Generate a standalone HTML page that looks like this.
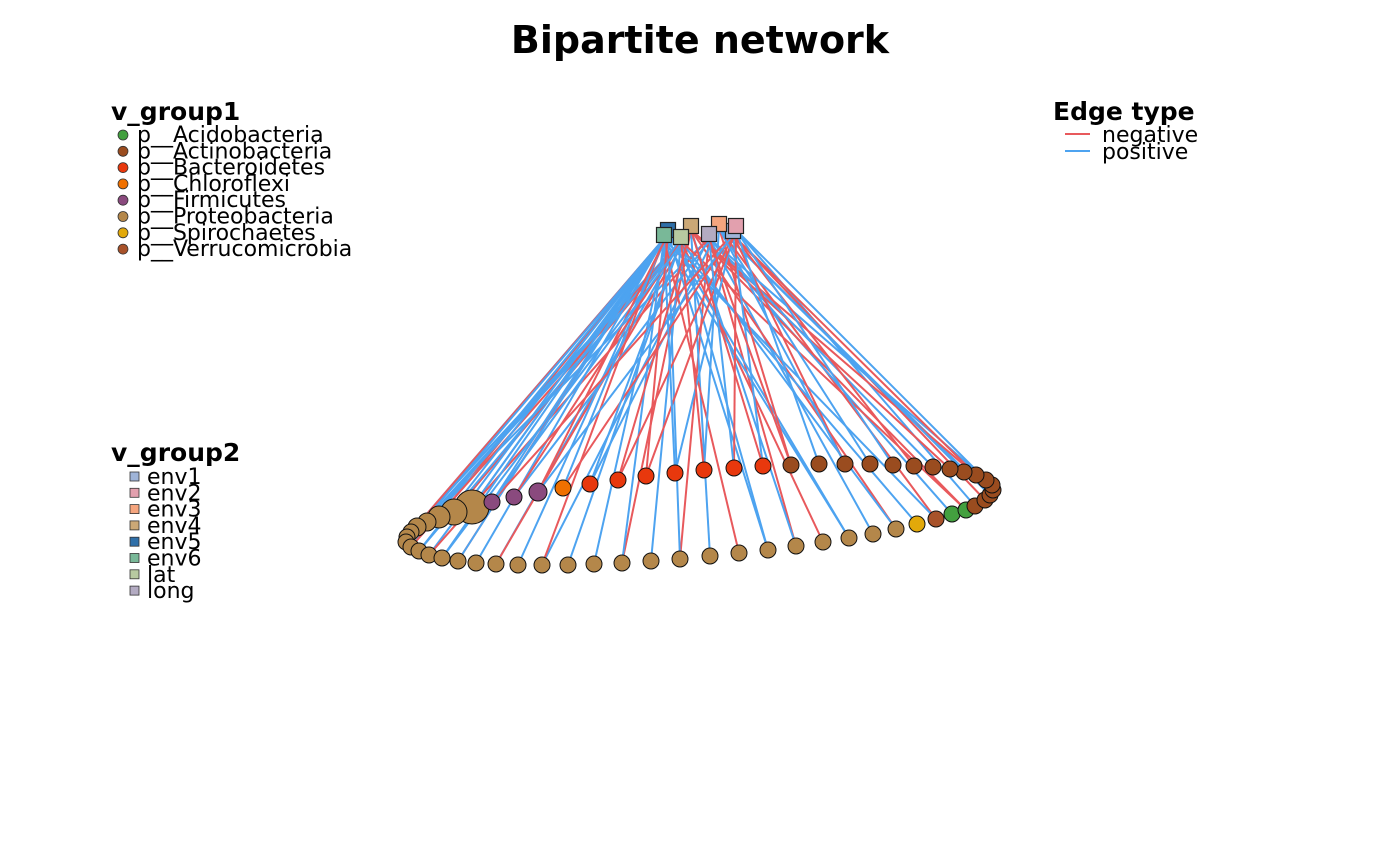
<!DOCTYPE html>
<html><head><meta charset="utf-8"><style>
html,body{margin:0;padding:0;background:#fff;}
svg{display:block;font-family:"DejaVu Sans","Liberation Sans",sans-serif;}
</style></head><body>
<svg id="chart" width="1400" height="866" viewBox="0 0 1400 866">
<text x="700" y="53" text-anchor="middle" font-size="38" font-weight="bold">Bipartite network</text>
<g id="edges"></g>
<g id="nodes"></g>
<g id="legends"></g>
</svg>
<script>
const groupNames = ["p__Acidobacteria","p__Actinobacteria","p__Bacteroidetes","p__Chloroflexi","p__Firmicutes","p__Proteobacteria","p__Spirochaetes","p__Verrucomicrobia"];
const groupColors = ["#43A03F","#9A4C1F","#E8380D","#F07000","#8A4A7E","#B4874A","#E2A90A","#A8522A"];
const envNames = ["env1","env2","env3","env4","env5","env6","lat","long"];
const envColors = ["#9FB4D8","#E2A0AE","#F5A57E","#CBA876","#2F6FA8","#79B898","#B7C9A0","#B3ABC2"];
// env square layout [x,y]
const envPos = [[733,231],[736,226],[719,224],[691,226],[668,230],[664,235],[681,237],[709,234]];
const envOrder = [0,3,2,1,7,4,5,6];
// ring nodes: x, y, radius, group index
const ringNodes = [
[472,507,17,5],[454,512,13,5],[439,517,11,5],[427,522,9,5],[417,527,9,5],[411,532,8,5],[407,537,8,5],[406,542,8,5],
[411,547,8,5],[419,551,8,5],[429,555,8,5],[442,558,8,5],[458,561,8,5],[476,563,8,5],[496,564,8,5],[518,565,8,5],
[542,565,8,5],[568,565,8,5],[594,564,8,5],[622,563,8,5],[651,561,8,5],[680,559,8,5],[710,556,8,5],[739,553,8,5],
[768,550,8,5],[796,546,8,5],[823,542,8,5],[849,538,8,5],[873,534,8,5],[896,529,8,5],[917,524,8,6],[936,519,8,7],
[952,514,8,0],[966,510,8,0],[975,506,8,1],[985,500,8,1],[990,495,8,1],[993,490,8,1],[992,485,8,1],[986,480,8,1],
[976,475,8,1],[964,472,8,1],[950,469,8,1],[933,467,8,1],[914,466,8,1],[893,465,8,1],[870,464,8,1],[845,464,8,1],
[819,464,8,1],[791,465,8,1],[763,466,8,2],[734,468,8,2],[704,470,8,2],[675,473,8,2],[646,476,8,2],[618,480,8,2],
[590,484,8,2],[563,488,8,3],[538,492,9,4],[514,497,8,4],[492,502,8,4]];
// edges: source env index, target ring index, sign (1 positive, 0 negative)
const edgeSrc = [4,5,6,3,4,5,6,7,4,5,3,6,4,5,6,4,5,3,6,4,5,7,4,6,5,4,5,6,3,4,7,5,6,4,3,5,6,7,4,3,5,6,4,7,3,6,4,5,7,3,6,4,2,5,7,3,6,1,0,2,3,7,1,0,2,3,7,0,1,2,0,1,2,0,1,2,0,1,0,2,1,0,2,1,3,7,6,5,4,3,6,5,4,6,5,3,7,2];
const edgeDst = [0,0,1,1,2,2,3,3,4,4,5,5,6,6,7,7,8,8,9,9,10,10,11,11,12,12,13,14,14,15,16,16,17,18,19,19,20,21,21,22,23,24,24,25,25,26,27,27,28,29,29,30,31,31,32,33,33,34,35,36,37,38,39,40,41,42,43,44,45,46,47,48,49,50,51,52,53,54,55,56,57,58,59,60,50,51,52,53,54,55,56,57,58,59,60,60,49,47];
const edgeSign = [1,1,1,0,1,0,1,1,1,0,1,1,1,0,1,1,1,0,1,1,1,0,1,1,0,1,1,1,0,1,1,0,1,1,0,1,1,0,1,1,0,1,1,0,1,0,1,1,1,0,1,1,0,1,1,0,0,1,0,1,0,1,1,0,1,0,1,0,1,1,0,1,0,1,0,1,1,0,0,1,0,1,1,0,0,1,0,1,0,0,1,1,0,0,1,1,0,1];
const svgNS = "http://www.w3.org/2000/svg";
function mk(tag, attrs, parent){const e=document.createElementNS(svgNS,tag);for(const k in attrs)e.setAttribute(k,attrs[k]);parent.appendChild(e);return e;}
const gE=document.getElementById("edges"), gN=document.getElementById("nodes"), gL=document.getElementById("legends");
for(let i=0;i<edgeSrc.length;i++){
  const s=envPos[edgeSrc[i]], t=ringNodes[edgeDst[i]];
  const l=mk("line",{x1:s[0],y1:s[1]+4,x2:t[0],y2:t[1],stroke:edgeSign[i]?"#4DA3F0":"#E8595C","stroke-width":2},gE);
  
  
}
for(let i=0;i<ringNodes.length;i++){
  const n=ringNodes[i];
  const c=mk("circle",{cx:n[0],cy:n[1],r:n[2],fill:groupColors[n[3]],stroke:"#111","stroke-width":1},gN);
  
  
}
for(const k of envOrder){
  const p=envPos[k];
  const r=mk("rect",{x:p[0]-7.5,y:p[1]-7.5,width:15,height:15,fill:envColors[k],stroke:"#222","stroke-width":1.2},gN);
  
  
}
// legends
let t=mk("text",{x:111,y:120,"font-size":25,"font-weight":"bold"},gL); t.textContent="v_group1";


groupNames.forEach((nm,i)=>{
  const y=134+i*16.3;
  const c=mk("circle",{cx:123,cy:y+1,r:5,fill:groupColors[i],stroke:"#333","stroke-width":0.8},gL);
  
  
  const tx=mk("text",{x:137,y:y+8,"font-size":22},gL); tx.textContent=nm;
  
  
});
t=mk("text",{x:111,y:461,"font-size":25,"font-weight":"bold"},gL); t.textContent="v_group2";


envNames.forEach((nm,i)=>{
  const y=476+i*16.3;
  const r=mk("rect",{x:130,y:y-4,width:9,height:9,fill:envColors[i],stroke:"#333","stroke-width":0.8},gL);
  
  
  const tx=mk("text",{x:147,y:y+8,"font-size":22},gL); tx.textContent=nm;
  
  
});
t=mk("text",{x:1053,y:120,"font-size":25,"font-weight":"bold"},gL); t.textContent="Edge type";


[["negative","#E8595C"],["positive","#4DA3F0"]].forEach((e,i)=>{
  const y=134+i*17;
  const l=mk("line",{x1:1065,y1:y,x2:1090,y2:y,stroke:e[1],"stroke-width":2},gL);
  
  
  const tx=mk("text",{x:1102,y:y+8,"font-size":22},gL); tx.textContent=e[0];
  
  
});
</script>
</body></html>
